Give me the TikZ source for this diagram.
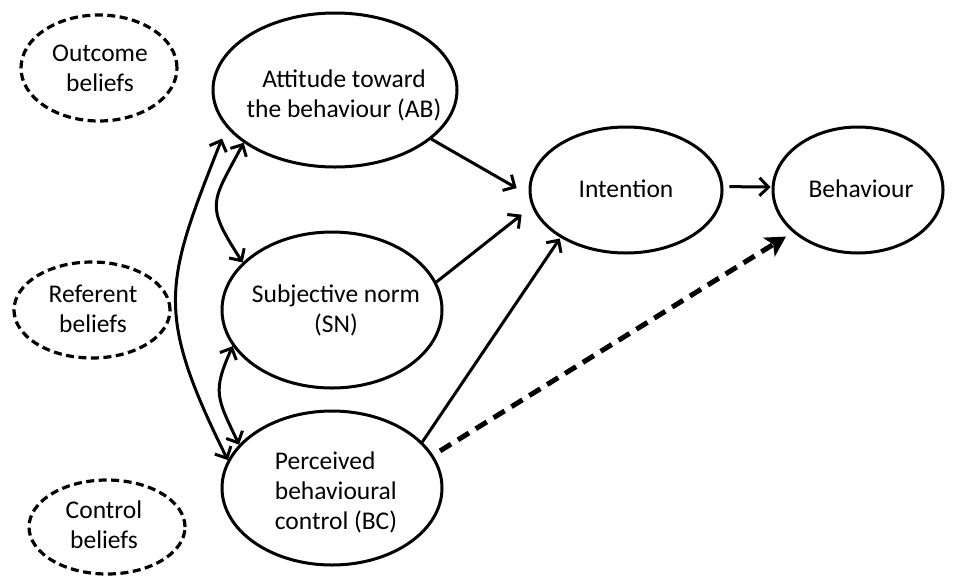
\documentclass[tikz,border=0pt]{standalone}
\usepackage{fontspec}
\setmainfont{Carlito}
\usetikzlibrary{shapes.geometric,arrows.meta}
\begin{document}
\begin{tikzpicture}[x=1pt,y=-1pt,
  ell/.style={ellipse,draw,line width=3pt,inner sep=0pt},
  belief/.style={ellipse,draw,inner sep=0pt,line width=3.2pt,dash pattern=on 8pt off 4.5pt},
  txt/.style={inner sep=0pt,font=\fontsize{25.5}{30}\selectfont,align=center},
  arr/.style={line width=3pt,-{Straight Barb[length=9pt,width=18pt]}},
  dbl/.style={line width=3pt,{Straight Barb[length=9pt,width=18pt]}-{Straight Barb[length=9pt,width=18pt]}},
  darr/.style={line width=5pt,dash pattern=on 13pt off 8pt,-{Stealth[length=20pt,width=22pt,inset=5pt]}}]
\useasboundingbox (0,0) rectangle (965,576);
% ellipses
\node[belief,minimum width=156pt,minimum height=106pt] (OB) at (99,68) {};
\node[ell,minimum width=244pt,minimum height=154pt] (AB) at (335,90) {};
\node[belief,minimum width=156pt,minimum height=96pt] (RB) at (92,310) {};
\node[ell,minimum width=220pt,minimum height=156pt] (SN) at (332,310) {};
\node[ell,minimum width=220pt,minimum height=154pt] (BC) at (332,488) {};
\node[belief,minimum width=156pt,minimum height=94pt] (CB) at (107,527) {};
\node[ell,minimum width=192pt,minimum height=126pt] (Int) at (626,190) {};
\node[ell,minimum width=170pt,minimum height=126pt] (Beh) at (858,190) {};
% texts
\node[txt] (OBt) at (100,68) {Outcome\\beliefs};
\node[txt] (ABt) at (344,95) {Attitude toward\\the behaviour (AB)};
\node[txt] (RBt) at (93,309) {Referent\\beliefs};
\node[txt] (SNt) at (336,310) {Subjective norm\\(SN)};
\node[txt,align=left] (BCt) at (336,492) {Perceived\\behavioural\\control (BC)};
\node[txt] (CBt) at (104,525) {Control\\beliefs};
\node[txt] (Intt) at (626,189) {Intention};
\node[txt] (Beht) at (861,189) {Behaviour};
% connectors
\draw[arr,shorten >=14pt] (AB.-27) -- (Int.183);
\draw[arr,shorten >=13pt] (SN.15) -- (Int.190);
\draw[arr,shorten >=1pt] (BC.27) -- (Int.216);
\draw[arr,shorten <=6pt,shorten >=1pt] (Int.2) -- (Beh.178);
\draw[darr,shorten <=8pt,shorten >=8pt] (BC.18) -- (Beh.213);
% double-headed curves
\draw[dbl,shorten >=12pt] (BC.165) .. controls (154,311) and (165,283) .. (AB.199);
\draw[dbl] (AB.210) .. controls (211,204) and (205,204) .. (SN.152);
\draw[dbl] (SN.200) .. controls (212,392) and (217,398) .. (BC.155);
\end{tikzpicture}
\end{document}
